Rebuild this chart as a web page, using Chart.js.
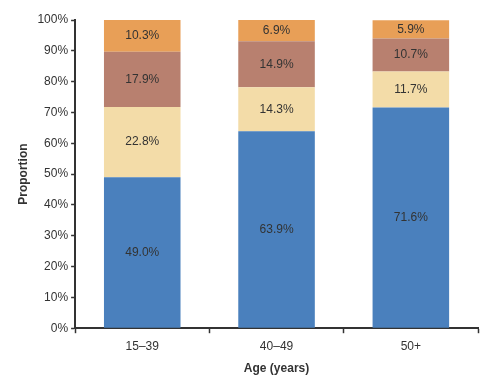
<!DOCTYPE html>
<html lang="en">
<head>
    <meta charset="UTF-8">
    <title>Proportion by Age</title>
    <script src="https://cdn.jsdelivr.net/npm/chart.js@4.4.0/dist/chart.umd.min.js"></script>
    <style>
        body { margin: 0; background: #fff; }
        #wrap { width: 500px; height: 386px; }
    </style>
</head>
<body>
    <div id="wrap"><canvas id="chart"></canvas></div>

    <script>
        const ageGroups = ['15\u201339', '40\u201349', '50+'];
        const seriesA = [49.0, 63.9, 71.6];   // blue, bottom
        const seriesB = [22.8, 14.3, 11.7];   // tan
        const seriesC = [17.9, 14.9, 10.7];   // brown
        const seriesD = [10.3, 6.9, 5.9];     // orange, top
        const yTicks = [0, 10, 20, 30, 40, 50, 60, 70, 80, 90, 100];

        const colors = ['#4a80bd', '#f3dca8', '#b8806f', '#e89f57'];
        const font = 'Liberation Sans, Arial, sans-serif';
        const ink = '#333';

        // draw the percentage in the middle of each bar segment
        const segmentLabels = {
            id: 'segmentLabels',
            afterDatasetsDraw(chart) {
                const ctx = chart.ctx;
                ctx.save();
                ctx.font = '12px ' + font;
                ctx.fillStyle = ink;
                ctx.textAlign = 'center';
                ctx.textBaseline = 'middle';
                chart.data.datasets.forEach((ds, i) => {
                    chart.getDatasetMeta(i).data.forEach((bar, j) => {
                        const mid = (bar.y + bar.base) / 2;
                        ctx.fillText(ds.data[j].toFixed(1) + '%', bar.x, mid);
                    });
                });
                ctx.restore();
            }
        };

        new Chart(document.getElementById('chart'), {
            type: 'bar',
            data: {
                labels: ageGroups,
                datasets: [seriesA, seriesB, seriesC, seriesD].map((d, i) => ({
                    data: d,
                    backgroundColor: colors[i],
                    borderWidth: 0,
                    categoryPercentage: 1,
                    barPercentage: 0.57
                }))
            },
            options: {
                responsive: true,
                maintainAspectRatio: false,
                animation: false,
                layout: { padding: { top: 20, right: 22, bottom: 6, left: 12 } },
                plugins: {
                    legend: { display: false },
                    tooltip: { enabled: false }
                },
                scales: {
                    x: {
                        stacked: true,
                        grid: { offset: true, drawOnChartArea: false, tickLength: 5, tickColor: ink, tickWidth: 1.5 },
                        border: { color: ink, width: 2 },
                        ticks: { color: ink, font: { family: font, size: 12 }, padding: 6 },
                        title: { display: true, text: 'Age (years)', color: ink, font: { family: font, size: 12, weight: 'bold' }, padding: { top: 2 } }
                    },
                    y: {
                        stacked: true,
                        min: 0,
                        max: 100,
                        afterBuildTicks(scale) { scale.ticks = yTicks.map(v => ({ value: v })); },
                        grid: { drawOnChartArea: false, tickLength: 4, tickColor: ink, tickWidth: 1.5 },
                        border: { color: ink, width: 2 },
                        ticks: { color: ink, font: { family: font, size: 12 }, padding: 3, callback: v => v + '%' },
                        title: { display: true, text: 'Proportion', color: ink, font: { family: font, size: 12, weight: 'bold' }, padding: { bottom: 4 } }
                    }
                }
            },
            plugins: [segmentLabels]
        });
    </script>
</body>
</html>
